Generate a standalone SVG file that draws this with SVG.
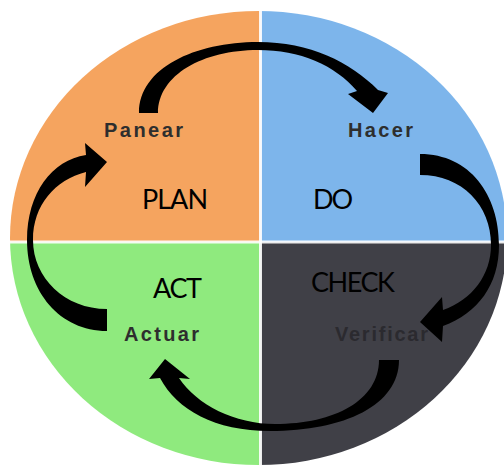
<svg xmlns="http://www.w3.org/2000/svg" width="504" height="469" viewBox="0 0 504 469">
  <defs>
    <clipPath id="disc">
      <ellipse cx="258.5" cy="238" rx="248.5" ry="227"/>
    </clipPath>
    <filter id="soft" x="-5%" y="-5%" width="110%" height="110%">
      <feGaussianBlur stdDeviation="0.7"/>
    </filter>
    <style>
      .sub { font-family: "Liberation Sans", Arial, sans-serif; font-weight: bold; font-size: 20px; fill: #2e2e2e; }
      .main { font-family: Lato, "Liberation Sans", Arial, sans-serif; font-size: 27px; fill: #000000; }
      .arrow { fill: #000000; stroke: none; }
      .divider { stroke: #ffffff; stroke-width: 3; opacity: 0.9; }
    </style>
  </defs>
  <rect width="504" height="469" fill="#ffffff"/>
  <g clip-path="url(#disc)" filter="url(#soft)">
    <g id="plan">
      <rect x="0" y="0" width="260.5" height="242" fill="#F5A45E"/>
    </g>
    <g id="do">
      <rect x="260.5" y="0" width="260" height="242" fill="#7DB5EB"/>
    </g>
    <g id="act">
      <rect x="0" y="242" width="260.5" height="240" fill="#8FEA7E"/>
    </g>
    <g id="check">
      <rect x="260.5" y="242" width="260" height="240" fill="#414046"/>
    </g>
    <line class="divider" x1="260.5" y1="0" x2="260.5" y2="469"/>
    <line class="divider" x1="0" y1="242" x2="504" y2="242"/>
  </g>
  <g id="labels">
    <g id="plan-text">
      <text class="sub" x="104" y="137" textLength="79">Panear</text>
      <text class="main" x="142" y="209" textLength="66">PLAN</text>
    </g>
    <g id="do-text">
      <text class="sub" x="348" y="137" textLength="65">Hacer</text>
      <text class="main" x="313" y="209" textLength="40">DO</text>
    </g>
    <g id="act-text">
      <text class="sub" x="124" y="341" textLength="75">Actuar</text>
      <text class="main" x="153" y="298" textLength="49">ACT</text>
    </g>
    <g id="check-text">
      <text class="sub" x="335" y="341" textLength="93" style="fill:#2b2a2f">Verificar</text>
      <text class="main" x="311" y="292" textLength="84">CHECK</text>
    </g>
  </g>
  <g id="connectors">
    <path class="arrow" d="M 139,113 C 139,68 195,42 258,42 C 310,42 350,62 378,90 L 388,93 L 373,113 L 348,94 L 357,91 C 335,65 300,50 258,50 C 203,50 158,75 158,113 Z"/>
    <path class="arrow" d="M 420,154 C 470,154 499,195 499,245 C 499,285 478,313 443,326 L 442,342 L 420,322 L 442,297 L 443,310 C 472,300 491,275 491,245 C 491,205 462,175 420,175 Z"/>
    <path class="arrow" d="M 399,360 C 399,405 345,431 270,431 C 215,431 177,410 160,378 L 149,379 L 165,359 L 190,379 L 179,378 C 197,405 235,424 275,424 C 335,424 379,400 379,360 Z"/>
    <path class="arrow" d="M 107,331 C 60,331 27,292 27,240 C 27,193 52,160 86,155 L 85,143 L 107,162 L 85,187 L 86,172 C 55,180 33,205 33,240 C 33,278 65,309 107,309 Z"/>
  </g>
</svg>
